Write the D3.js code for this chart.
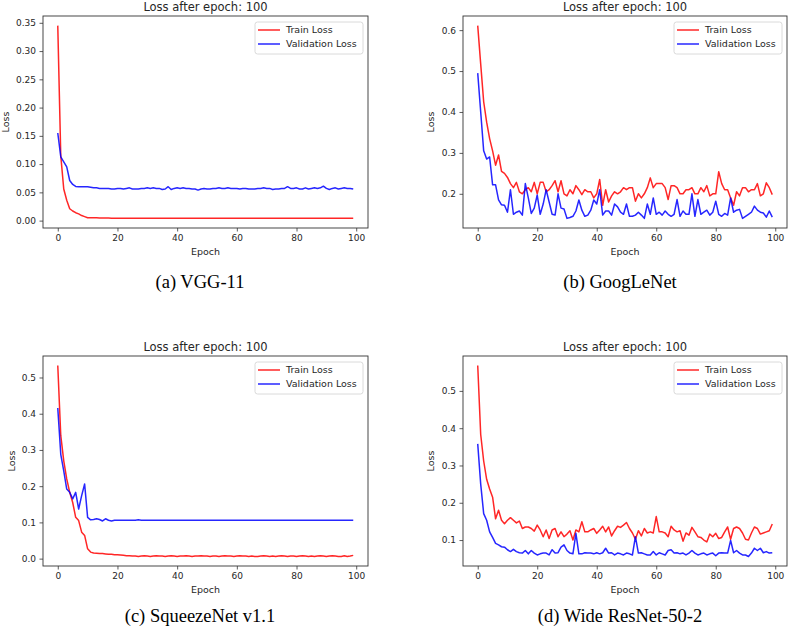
<!DOCTYPE html>
<html><head><meta charset="utf-8">
<script src="https://cdn.jsdelivr.net/npm/d3@7"></script>
<style>body{margin:0;background:#fff}</style>
</head><body>
<svg id="c" width="789" height="632" xmlns="http://www.w3.org/2000/svg"></svg>
<script>
const epochs = d3.range(100);
const seriesNames = ["Train Loss", "Validation Loss"];
const titles = ["Loss after epoch: 100","Loss after epoch: 100","Loss after epoch: 100","Loss after epoch: 100"];
const captions = ["(a) VGG-11", "(b) GoogLeNet", "(c) SqueezeNet v1.1", "(d) Wide ResNet-50-2"];
const xTicks = [0, 20, 40, 60, 80, 100];
const yTicksA = [0, 0.05, 0.10, 0.15, 0.20, 0.25, 0.30, 0.35];
const yTicksB = [0.2, 0.3, 0.4, 0.5, 0.6];
const yTicksC = [0.0, 0.1, 0.2, 0.3, 0.4, 0.5];
const yTicksD = [0.1, 0.2, 0.3, 0.4, 0.5];

const vggTrain = [0.345,0.115,0.056,0.036,0.021,0.017,0.014,0.012,0.009,0.007,
 0.005,0.005,0.005,0.005,0.0048,0.0046,0.0045,0.0045,0.0044,0.0044,
 0.0043,0.0043,0.0042,0.0042,0.0042,0.0041,0.0041,0.0041,0.004,0.004,
 0.004,0.004,0.004,0.0041,0.004,0.004,0.004,0.004,0.0041,0.004,
 0.004,0.004,0.004,0.004,0.004,0.0041,0.004,0.004,0.004,0.004,
 0.004,0.004,0.0041,0.004,0.004,0.004,0.004,0.004,0.004,0.0041,
 0.004,0.004,0.004,0.004,0.004,0.004,0.004,0.0041,0.004,0.004,
 0.004,0.0042,0.004,0.004,0.004,0.004,0.004,0.004,0.004,0.0041,
 0.004,0.004,0.004,0.004,0.004,0.004,0.004,0.004,0.0041,0.004,
 0.004,0.004,0.004,0.004,0.004,0.004,0.004,0.004,0.004,0.0042];
const vggVal = [0.155,0.113,0.104,0.095,0.071,0.064,0.0605,0.060,0.060,0.060,
 0.060,0.059,0.058,0.058,0.057,0.057,0.057,0.057,0.056,0.056,
 0.057,0.057,0.056,0.057,0.058,0.056,0.056,0.056,0.057,0.057,
 0.058,0.057,0.058,0.057,0.057,0.055,0.056,0.060,0.055,0.057,
 0.058,0.057,0.058,0.057,0.057,0.056,0.056,0.054,0.056,0.057,
 0.056,0.056,0.057,0.057,0.058,0.057,0.057,0.058,0.057,0.057,
 0.057,0.056,0.057,0.057,0.056,0.056,0.056,0.057,0.057,0.058,
 0.057,0.057,0.055,0.056,0.056,0.057,0.057,0.060,0.057,0.057,
 0.058,0.056,0.056,0.058,0.056,0.057,0.058,0.057,0.058,0.061,
 0.057,0.055,0.057,0.058,0.056,0.057,0.058,0.057,0.057,0.056];

const googTrain = [0.611,0.517,0.425,0.375,0.335,0.305,0.270,0.295,0.255,0.250,
 0.240,0.225,0.215,0.228,0.205,0.200,0.210,0.215,0.205,0.228,
 0.200,0.228,0.228,0.205,0.210,0.220,0.232,0.205,0.232,0.200,
 0.195,0.210,0.200,0.220,0.210,0.198,0.210,0.205,0.205,0.190,
 0.200,0.235,0.172,0.210,0.180,0.195,0.205,0.200,0.205,0.215,
 0.210,0.215,0.215,0.182,0.200,0.190,0.200,0.215,0.239,0.215,
 0.225,0.225,0.225,0.215,0.186,0.220,0.220,0.215,0.200,0.200,
 0.210,0.210,0.215,0.200,0.200,0.215,0.205,0.220,0.195,0.200,
 0.200,0.254,0.225,0.210,0.210,0.190,0.172,0.205,0.195,0.215,
 0.215,0.205,0.210,0.210,0.225,0.195,0.200,0.227,0.215,0.198];
const googVal = [0.495,0.400,0.305,0.285,0.290,0.222,0.222,0.185,0.173,0.172,
 0.155,0.210,0.150,0.155,0.158,0.148,0.225,0.190,0.152,0.165,
 0.197,0.150,0.175,0.210,0.180,0.150,0.148,0.200,0.165,0.163,
 0.140,0.142,0.145,0.158,0.185,0.160,0.145,0.148,0.160,0.185,
 0.175,0.210,0.148,0.158,0.158,0.148,0.175,0.168,0.155,0.150,
 0.175,0.145,0.145,0.148,0.155,0.148,0.140,0.175,0.150,0.190,
 0.150,0.155,0.148,0.158,0.150,0.145,0.150,0.186,0.145,0.158,
 0.150,0.150,0.200,0.145,0.186,0.150,0.155,0.160,0.148,0.155,
 0.182,0.150,0.145,0.152,0.148,0.190,0.155,0.160,0.162,0.140,
 0.145,0.150,0.155,0.170,0.160,0.155,0.153,0.143,0.158,0.143];

const squeezeTrain = [0.533,0.340,0.270,0.220,0.183,0.155,0.114,0.105,0.073,0.064,
 0.027,0.018,0.0155,0.015,0.014,0.014,0.013,0.012,0.012,0.011,
 0.011,0.010,0.009,0.008,0.008,0.007,0.007,0.006,0.007,0.008,
 0.007,0.006,0.007,0.008,0.007,0.007,0.006,0.007,0.008,0.007,
 0.006,0.007,0.007,0.008,0.007,0.006,0.007,0.007,0.008,0.007,
 0.007,0.006,0.007,0.007,0.006,0.007,0.008,0.007,0.007,0.006,
 0.007,0.008,0.007,0.007,0.006,0.007,0.006,0.006,0.007,0.008,
 0.007,0.006,0.007,0.006,0.007,0.008,0.007,0.006,0.007,0.007,
 0.006,0.007,0.008,0.007,0.006,0.007,0.006,0.007,0.008,0.007,
 0.006,0.007,0.008,0.007,0.006,0.006,0.008,0.006,0.007,0.009];
const squeezeVal = [0.416,0.288,0.242,0.192,0.183,0.165,0.183,0.137,0.174,0.206,
 0.114,0.107,0.108,0.110,0.108,0.104,0.110,0.106,0.104,0.106,
 0.106,0.106,0.106,0.106,0.106,0.106,0.106,0.107,0.106,0.106,
 0.106,0.106,0.106,0.106,0.106,0.106,0.106,0.106,0.106,0.106,
 0.106,0.106,0.106,0.106,0.106,0.106,0.106,0.106,0.106,0.106,
 0.106,0.106,0.106,0.106,0.106,0.106,0.106,0.106,0.106,0.106,
 0.106,0.106,0.106,0.106,0.106,0.106,0.106,0.106,0.106,0.106,
 0.106,0.106,0.106,0.106,0.106,0.106,0.106,0.106,0.106,0.106,
 0.106,0.106,0.106,0.106,0.106,0.106,0.106,0.106,0.106,0.106,
 0.106,0.106,0.106,0.106,0.106,0.106,0.106,0.106,0.106,0.106];

const wrnTrain = [0.568,0.383,0.312,0.263,0.237,0.215,0.157,0.180,0.153,0.144,
 0.153,0.160,0.153,0.146,0.151,0.131,0.135,0.135,0.131,0.124,
 0.140,0.127,0.109,0.127,0.104,0.127,0.131,0.109,0.122,0.109,
 0.116,0.125,0.100,0.127,0.122,0.149,0.122,0.122,0.127,0.131,
 0.118,0.127,0.137,0.122,0.135,0.111,0.125,0.137,0.134,0.140,
 0.147,0.131,0.119,0.102,0.125,0.111,0.131,0.119,0.122,0.119,
 0.163,0.122,0.122,0.119,0.109,0.137,0.127,0.122,0.125,0.097,
 0.119,0.113,0.134,0.122,0.109,0.107,0.100,0.095,0.116,0.109,
 0.118,0.104,0.107,0.122,0.135,0.102,0.131,0.135,0.131,0.119,
 0.102,0.100,0.119,0.135,0.131,0.116,0.119,0.122,0.125,0.143];
const wrnVal = [0.358,0.250,0.171,0.153,0.122,0.107,0.091,0.087,0.082,0.081,
 0.074,0.069,0.075,0.069,0.066,0.065,0.072,0.063,0.072,0.065,
 0.060,0.063,0.065,0.065,0.060,0.074,0.065,0.066,0.081,0.087,
 0.072,0.065,0.063,0.118,0.063,0.063,0.066,0.065,0.065,0.063,
 0.066,0.063,0.066,0.078,0.065,0.066,0.060,0.065,0.063,0.060,
 0.065,0.063,0.060,0.109,0.065,0.066,0.063,0.060,0.060,0.069,
 0.060,0.066,0.063,0.060,0.072,0.074,0.065,0.066,0.063,0.065,
 0.060,0.065,0.072,0.065,0.060,0.063,0.065,0.060,0.063,0.065,
 0.058,0.065,0.066,0.065,0.065,0.099,0.066,0.072,0.065,0.060,
 0.060,0.056,0.065,0.078,0.072,0.078,0.066,0.069,0.065,0.066];

const trainColor = "#ff0000", valColor = "#0000ff";
const panels = [
  {train: vggTrain, val: vggVal, ticks: yTicksA, fmt: ".2f", x0: 43, x1: 368, y0: 16, y1: 228, ylabX: 5.5, capX: 200, capY: 282},
  {train: googTrain, val: googVal, ticks: yTicksB, fmt: ".1f", x0: 463, x1: 787, y0: 16, y1: 228, ylabX: 430, capX: 620, capY: 282},
  {train: squeezeTrain, val: squeezeVal, ticks: yTicksC, fmt: ".1f", x0: 43, x1: 368, y0: 356, y1: 566, ylabX: 11.5, capX: 200, capY: 616},
  {train: wrnTrain, val: wrnVal, ticks: yTicksD, fmt: ".1f", x0: 463, x1: 787, y0: 356, y1: 566, ylabX: 430, capX: 620, capY: 616}
];

const svg = d3.select("#c");
const sans = "'DejaVu Sans', sans-serif";
const textCol = "#262626";

panels.forEach((p, i) => {
  const all = p.train.concat(p.val);
  const mn = d3.min(all), mx = d3.max(all), r = mx - mn;
  const x = d3.scaleLinear().domain([-4.95, 103.95]).range([p.x0, p.x1]);
  const y = d3.scaleLinear().domain([mn - 0.05 * r, mx + 0.05 * r]).range([p.y1, p.y0]);
  const g = svg.append("g");

  const xa = g.append("g").attr("transform", `translate(0,${p.y1})`)
    .call(d3.axisBottom(x).tickValues(xTicks).tickSize(3.5).tickPadding(3).tickFormat(d3.format("d")));
  const ya = g.append("g").attr("transform", `translate(${p.x0},0)`)
    .call(d3.axisLeft(y).tickValues(p.ticks).tickSize(3.5).tickPadding(3.5).tickFormat(d3.format(p.fmt)));
  [xa, ya].forEach(a => {
    a.select(".domain").remove();
    a.selectAll(".tick line").attr("stroke", "#333").attr("stroke-width", 0.8);
    a.selectAll("text").attr("fill", textCol).style("font-family", sans).style("font-size", "9px");
  });

  const line = d3.line().x((d, j) => x(epochs[j])).y(d => y(d));
  g.append("path").datum(p.train).attr("d", line).attr("fill", "none")
    .attr("stroke", trainColor).attr("stroke-opacity", 0.85).attr("stroke-width", 1.5).attr("stroke-linejoin", "round");
  g.append("path").datum(p.val).attr("d", line).attr("fill", "none")
    .attr("stroke", valColor).attr("stroke-opacity", 0.85).attr("stroke-width", 1.5).attr("stroke-linejoin", "round");

  g.append("rect").attr("x", p.x0).attr("y", p.y0).attr("width", p.x1 - p.x0).attr("height", p.y1 - p.y0)
    .attr("fill", "none").attr("stroke", "#333").attr("stroke-width", 0.9);

  // title
  g.append("text").attr("x", (p.x0 + p.x1) / 2).attr("y", p.y0 - 5).attr("text-anchor", "middle")
    .attr("fill", textCol).style("font-family", sans).style("font-size", "11.5px").text(titles[i]);
  // axis labels
  g.append("text").attr("x", (p.x0 + p.x1) / 2).attr("y", p.y1 + 26.5).attr("text-anchor", "middle")
    .attr("fill", textCol).style("font-family", sans).style("font-size", "9.5px").text("Epoch");
  g.append("text").attr("transform", `translate(${p.ylabX + 3.5},${(p.y0 + p.y1) / 2}) rotate(-90)`)
    .attr("text-anchor", "middle").attr("fill", textCol).style("font-family", sans).style("font-size", "9.5px").text("Loss");

  // legend
  const lw = 108, lh = 32;
  const lx = p.x1 - 5 - lw, ly = p.y0 + 6;
  const lg = g.append("g");
  lg.append("rect").attr("x", lx).attr("y", ly).attr("width", lw).attr("height", lh).attr("rx", 2.5)
    .attr("fill", "#fff").attr("fill-opacity", 0.8).attr("stroke", "#d0d0d0").attr("stroke-width", 0.8);
  [trainColor, valColor].forEach((c, k) => {
    const yy = ly + 8 + k * 14;
    lg.append("line").attr("x1", lx + 3).attr("x2", lx + 25).attr("y1", yy).attr("y2", yy)
      .attr("stroke", c).attr("stroke-opacity", 0.85).attr("stroke-width", 1.5);
    lg.append("text").attr("x", lx + 31).attr("y", yy).attr("dy", "0.35em").attr("fill", textCol)
      .style("font-family", sans).style("font-size", "9.5px").text(seriesNames[k]);
  });

  // caption
  svg.append("text").attr("x", p.capX).attr("y", p.capY).attr("dy", "0.35em").attr("text-anchor", "middle")
    .attr("fill", "#000").style("font-family", "'Liberation Serif', 'Times New Roman', serif").style("font-size", "18.5px")
    .text(captions[i]);
});
</script>
</body></html>
